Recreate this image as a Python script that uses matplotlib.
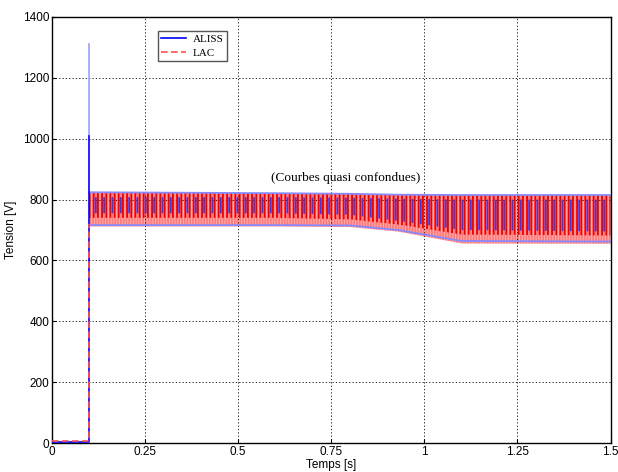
import matplotlib
matplotlib.use('Agg')
import matplotlib.pyplot as plt

# start-up step (before the band)
t_step = [0.0, 0.1, 0.1]
aliss_step = [2, 2, 1010]
lac_step = [5, 5, 720]
aliss_peak = 1310

# envelope of the oscillating tension
t_env = [0.1, 0.6, 0.8, 0.93, 1.1, 1.5]
upper_env = [824, 821, 819, 816, 815, 815]
lower_aliss = [716, 716, 715, 700, 664, 662]
lower_lac = [712, 712, 710, 695, 656, 655]
core_low = [740, 740, 735, 718, 685, 682]
blue_low = [755, 755, 750, 730, 700, 695]
blue_high = [808, 808, 806, 803, 800, 800]

x_ticks = [0, 0.25, 0.5, 0.75, 1, 1.25, 1.5]
x_labels = ['0', '0.25', '0.5', '0.75', '1', '1.25', '1.5']
y_ticks = [0, 200, 400, 600, 800, 1000, 1200, 1400]

plt.rcParams['font.family'] = 'Liberation Sans'
plt.rcParams['hatch.linewidth'] = 1.3

fig = plt.figure(figsize=(6.18, 4.72), dpi=100)
ax = fig.add_axes([0.084, 0.0614, 0.904, 0.9026])

# pale red band (LAC oscillation)
ax.fill_between(t_env, lower_lac, upper_env, facecolor='#ffb0b0', edgecolor='#ff7a7a',
                hatch='||||||', linewidth=0, zorder=2)
# darker red core
ax.fill_between(t_env, core_low, upper_env, facecolor='none', edgecolor='#f00000',
                hatch='||||', linewidth=0, zorder=3)
# blue strokes (ALISS)
ax.fill_between(t_env, blue_low, blue_high, facecolor='none', edgecolor='#3a3ae0',
                hatch='||', linewidth=0, zorder=4)
# ALISS envelope edges
ax.plot(t_env, upper_env, color='#8888ff', linewidth=1.3, zorder=5)
ax.plot(t_env, lower_aliss, color='#8888ff', linewidth=1.3, zorder=5)

# start-up
ax.plot([t_step[1], t_step[2]], [aliss_step[2], aliss_peak], color='#a0a0ff', linewidth=1.2, zorder=5)
ax.plot(t_step, aliss_step, color='blue', linewidth=1.2, zorder=6, label='ALISS')
ax.plot(t_step, lac_step, color='#ff5050', linestyle='--', linewidth=1.2, zorder=6,
        dashes=(4, 2), label='LAC')

ax.set_xlim(0, 1.5)
ax.set_ylim(0, 1400)
ax.set_xticks(x_ticks)
ax.set_xticklabels(x_labels)
ax.set_yticks(y_ticks)
ax.tick_params(labelsize=8.5, direction='in', length=3, pad=2)
ax.grid(True, color='black', linestyle=(0, (1.5, 2.5)), linewidth=0.6)
ax.set_axisbelow(False)
for s in ax.spines.values():
    s.set_linewidth(1.0)
ax.set_xlabel('Temps [s]', fontsize=8.5, labelpad=1)
ax.set_ylabel('Tension [V]', fontsize=8.5, labelpad=4)

ax.text(0.79, 872, '(Courbes quasi confondues)', ha='center', va='center',
        fontsize=9.5, family='Liberation Serif', zorder=7)

leg = ax.legend(loc='upper left', bbox_to_anchor=(0.18, 0.98), fancybox=False,
                edgecolor='#555555', framealpha=1, prop={'family': 'Liberation Serif', 'size': 8},
                handlelength=2.2, borderpad=0.3, labelspacing=0.35, handletextpad=0.6)
leg.get_frame().set_linewidth(1.0)

fig.savefig('out.png', dpi=100)
